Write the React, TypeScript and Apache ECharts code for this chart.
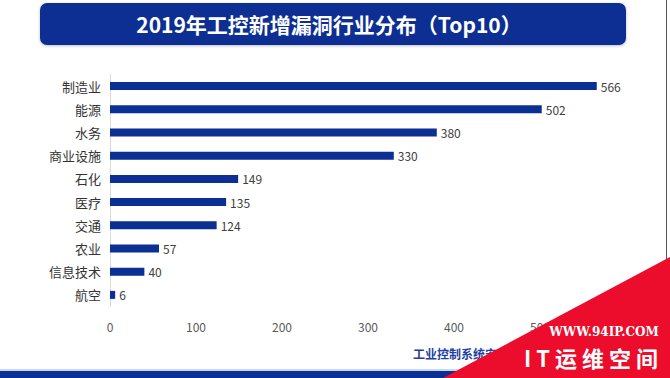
import React, { useEffect, useRef } from "react";
import * as echarts from "echarts";

const categories = ["制造业", "能源", "水务", "商业设施", "石化", "医疗", "交通", "农业", "信息技术", "航空"];
const values = [566, 502, 380, 330, 149, 135, 124, 57, 40, 6];
const xTicks = [0, 100, 200, 300, 400, 500, 600];
const titleText = "2019年工控新增漏洞行业分布（Top10）";
const sourceText = "工业控制系统安全";
const watermarkUrl = "WWW.94IP.COM";
const watermarkName = "I T 运 维 空 间";

const NAVY = "#0b2f92";
const FONT = "'Noto Sans CJK SC', 'Noto Sans', sans-serif";

export default function App() {
  const ref = useRef<HTMLDivElement>(null);
  useEffect(() => {
    if (!ref.current) return;
    const chart = echarts.init(ref.current, undefined, { renderer: "svg" });
    const lastTick = xTicks[xTicks.length - 1];
    chart.setOption({
      animation: false,
      backgroundColor: "#ffffff",
      textStyle: { fontFamily: FONT },
      grid: { left: 110, right: 44, top: 74.5, height: 232, containLabel: false },
      xAxis: {
        type: "value",
        min: xTicks[0],
        max: lastTick,
        interval: 100,
        axisLine: { show: false },
        axisTick: { show: false },
        splitLine: { show: false },
        axisLabel: {
          color: "#595959",
          fontSize: 12,
          margin: 14,
          fontFamily: FONT,
          // the last tick is hidden under the watermark corner in the reference
          formatter: (v: number) => (v === lastTick ? "" : String(v)),
        },
      },
      yAxis: {
        type: "category",
        inverse: true,
        data: categories,
        axisLine: { show: true, lineStyle: { color: "#d9d9d9", width: 1 } },
        axisTick: { show: false },
        axisLabel: { color: "#333333", fontSize: 13, margin: 9, fontFamily: FONT },
      },
      series: [
        {
          type: "bar",
          data: values,
          barWidth: 8,
          itemStyle: { color: NAVY },
          label: {
            show: true,
            position: "right",
            distance: 4,
            color: "#404040",
            fontSize: 12,
            fontFamily: FONT,
          },
        },
      ],
      graphic: [
        {
          type: "rect",
          shape: { x: 40, y: 3, width: 586, height: 42, r: 7 },
          style: { fill: NAVY, shadowBlur: 3, shadowColor: "rgba(0,0,0,0.25)", shadowOffsetY: 1 },
          z: 10,
        },
        {
          type: "text",
          x: 329,
          y: 24,
          style: {
            text: titleText,
            fill: "#ffffff",
            fontSize: 21,
            fontWeight: "bold",
            fontFamily: FONT,
            align: "center",
            verticalAlign: "middle",
          },
          z: 11,
        },
        {
          type: "line",
          shape: { x1: 666.5, y1: 0, x2: 666.5, y2: 378 },
          style: { stroke: "#555555", lineWidth: 1 },
          z: 5,
        },
        {
          type: "rect",
          shape: { x: 0, y: 369, width: 670, height: 2 },
          style: { fill: "#c9d7ef" },
          z: 5,
        },
        {
          type: "rect",
          shape: { x: 0, y: 371, width: 670, height: 7 },
          style: { fill: NAVY },
          z: 5,
        },
        {
          type: "text",
          x: 413,
          y: 353,
          style: {
            text: sourceText,
            fill: "#1f3f9f",
            fontSize: 12,
            fontWeight: "bold",
            fontFamily: FONT,
            align: "left",
            verticalAlign: "middle",
          },
          z: 5,
        },
        {
          type: "polygon",
          shape: { points: [[443, 378], [670, 257], [670, 378]] },
          style: { fill: "#ec0c2c" },
          z: 20,
        },
        {
          type: "text",
          x: 604,
          y: 332,
          style: {
            text: watermarkUrl,
            fill: "#ffffff",
            fontSize: 12,
            fontWeight: "bold",
            fontFamily: "'DejaVu Serif', 'Liberation Serif', serif",
            align: "center",
            verticalAlign: "middle",
          },
          z: 21,
        },
        {
          type: "text",
          x: 591,
          y: 357,
          style: {
            text: watermarkName,
            fill: "#ffffff",
            fontSize: 22,
            fontWeight: "bold",
            fontFamily: FONT,
            align: "center",
            verticalAlign: "middle",
          },
          z: 21,
        },
      ],
    });
    return () => chart.dispose();
  }, []);
  return (
    <div
      ref={ref}
      style={{ position: "absolute", left: 0, top: 0, width: 670, height: 378 }}
    />
  );
}
